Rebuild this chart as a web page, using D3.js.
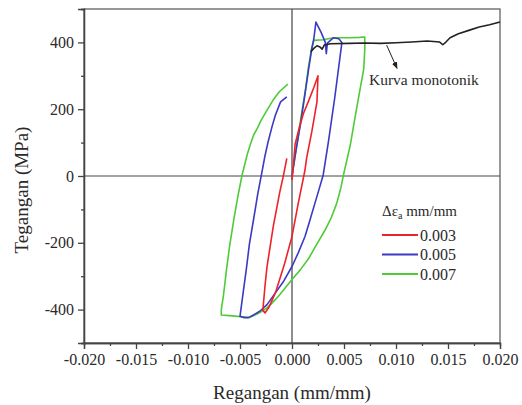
<!DOCTYPE html>
<html>
<head>
<meta charset="utf-8">
<script src="https://cdn.jsdelivr.net/npm/d3@7"></script>
<style>
  body { margin: 0; background: #fff; }
  svg text { font-family: "Liberation Serif", "Times New Roman", serif; fill: #2a2a2a; }
  .axis path, .axis line { stroke: #444; stroke-width: 1.3; }
  .axis text { font-size: 16px; }
</style>
</head>
<body>
<div id="chart"></div>
<script>
// strain (mm/mm), stress (MPa) pairs
const loop003 = [
    [0, -12], [0.0001, 20], [0.0003, 95], [0.0007, 145], [0.0011, 187], [0.0016, 225],
    [0.0021, 265], [0.0025, 300], [0.0024, 222], [0.0019, 132], [0.0014, 53],
    [0.00125, 18], [0.0006, -82], [0, -181], [-0.0007, -261], [-0.0016, -350],
    [-0.0022, -392], [-0.0026, -410], [-0.0028, -402], [-0.0026, -330],
    [-0.0024, -271], [-0.0018, -151], [-0.0012, -52], [-0.0008, 5], [-0.0005, 53]
];
const loop005 = [
    [0, 0], [0.0004, 80], [0.0008, 152], [0.0012, 235], [0.0016, 321], [0.0019, 380],
    [0.0021, 411], [0.0023, 461], [0.0028, 430], [0.0032, 400], [0.0033, 366],
    [0.0034, 398], [0.0040, 414], [0.0045, 411], [0.0048, 400], [0.0041, 232],
    [0.0035, 102], [0.0030, 3], [0.0026, -40], [0.0022, -82], [0.0017, -135],
    [0.00125, -181], [0.0006, -230], [0, -271], [-0.0008, -315], [-0.0016, -350],
    [-0.0024, -385], [-0.0031, -405], [-0.0037, -416], [-0.0042, -424],
    [-0.0046, -424], [-0.0050, -420], [-0.0047, -350], [-0.0044, -281],
    [-0.0041, -205], [-0.0037, -131], [-0.0033, -55], [-0.0029, 10], [-0.0026, 60],
    [-0.0023, 102], [-0.0019, 150], [-0.0016, 182], [-0.0011, 222], [-0.0005, 237]
];
const loop007 = [
    [0, 0], [0.0003, 60], [0.0006, 120], [0.0009, 182], [0.0013, 260], [0.0016, 330],
    [0.0019, 385], [0.0021, 406], [0.0030, 408], [0.0040, 414], [0.0055, 414],
    [0.0065, 415], [0.0070, 416], [0.0070, 381], [0.0069, 321], [0.0065, 252],
    [0.0061, 182], [0.0056, 92], [0.0050, 10], [0.0047, -35], [0.0043, -82],
    [0.0038, -123], [0.0032, -161], [0.0024, -203], [0.0016, -247], [0.0008, -281],
    [0, -310], [-0.0007, -337], [-0.0013, -360], [-0.0019, -380], [-0.0024, -395],
    [-0.0029, -405], [-0.0034, -414], [-0.0041, -424], [-0.0046, -422],
    [-0.0050, -421], [-0.0060, -418], [-0.0068, -416], [-0.0068, -400],
    [-0.0066, -360], [-0.0063, -281], [-0.0060, -210], [-0.0056, -131],
    [-0.0052, -60], [-0.0048, 3], [-0.0043, 65], [-0.0040, 95], [-0.0037, 122],
    [-0.0033, 145], [-0.0030, 165], [-0.0024, 197], [-0.0018, 228], [-0.0012, 253],
    [-0.0004, 275]
];
const monotonic = [
    [0.0018, 372], [0.0021, 382], [0.0024, 390], [0.0027, 386], [0.0029, 380],
    [0.0031, 392], [0.0037, 396], [0.0055, 397], [0.0070, 398], [0.0085, 397],
    [0.0100, 399], [0.0115, 401], [0.0130, 404], [0.0142, 401], [0.0145, 393],
    [0.0148, 401], [0.0152, 414], [0.0160, 426], [0.0170, 436], [0.0180, 446],
    [0.0190, 453], [0.0200, 461]
];

const seriesNames = ["0.003", "0.005", "0.007"];
const seriesData = [loop003, loop005, loop007];
const colors = ["#ee2229", "#3a3ac4", "#4ecb37"];

const xTicks = [-0.020, -0.015, -0.010, -0.005, 0, 0.005, 0.010, 0.015, 0.020];
const xMinor = [-0.0175, -0.0125, -0.0075, -0.0025, 0.0025, 0.0075, 0.0125, 0.0175];
const yTicks = [-400, -200, 0, 200, 400];
const yMinor = [-500, -300, -100, 100, 300, 500];

const W = 522, H = 405;
const svg = d3.select("#chart").append("svg")
    .attr("width", W)
    .attr("height", H);

const x = d3.scaleLinear().domain([-0.02, 0.02]).range([84, 500]);
const y = d3.scaleLinear().domain([-500, 500]).range([343, 9]);

// frame
svg.append("rect")
    .attr("x", x(-0.02)).attr("y", y(500))
    .attr("width", x(0.02) - x(-0.02))
    .attr("height", y(-500) - y(500))
    .attr("fill", "none")
    .attr("stroke", "#555")
    .attr("stroke-width", 1.2);

// zero lines
svg.append("line")
    .attr("x1", x(-0.02)).attr("x2", x(0.02))
    .attr("y1", y(0)).attr("y2", y(0))
    .attr("stroke", "#444").attr("stroke-width", 1.2);
svg.append("line")
    .attr("x1", x(0)).attr("x2", x(0))
    .attr("y1", y(500)).attr("y2", y(-500))
    .attr("stroke", "#444").attr("stroke-width", 1.2);

// axes
svg.append("g")
    .attr("class", "axis")
    .attr("transform", `translate(0, ${y(-500)})`)
    .call(d3.axisBottom(x).tickValues(xTicks).tickSize(6).tickPadding(5)
        .tickFormat(d => d.toFixed(3)));
svg.append("g")
    .attr("class", "axis")
    .attr("transform", `translate(0, ${y(-500)})`)
    .call(d3.axisBottom(x).tickValues(xMinor).tickSize(3).tickFormat(""));

svg.append("g")
    .attr("class", "axis")
    .attr("transform", `translate(${x(-0.02)}, 0)`)
    .call(d3.axisLeft(y).tickValues(yTicks).tickSize(6).tickPadding(4)
        .tickFormat(d => String(d)));
svg.append("g")
    .attr("class", "axis")
    .attr("transform", `translate(${x(-0.02)}, 0)`)
    .call(d3.axisLeft(y).tickValues(yMinor).tickSize(3).tickFormat(""));

svg.selectAll(".axis .domain").attr("stroke", "#555");

// curves
const line = d3.line()
    .x(d => x(d[0]))
    .y(d => y(d[1]));

[2, 1, 0].forEach(i => {
    svg.append("path")
        .datum(seriesData[i])
        .attr("d", line)
        .attr("fill", "none")
        .attr("stroke", colors[i])
        .attr("stroke-width", 1.6)
        .attr("stroke-linejoin", "round");
});

svg.append("path")
    .datum(monotonic)
    .attr("d", line)
    .attr("fill", "none")
    .attr("stroke", "#222")
    .attr("stroke-width", 1.6)
    .attr("stroke-linejoin", "round");

// annotation arrow
svg.append("defs").append("marker")
    .attr("id", "arrow")
    .attr("viewBox", "0 0 10 10")
    .attr("refX", 9).attr("refY", 5)
    .attr("markerWidth", 7).attr("markerHeight", 7)
    .attr("orient", "auto")
    .append("path")
    .attr("d", "M0,1 L10,5 L0,9 Z")
    .attr("fill", "#222");

svg.append("line")
    .attr("x1", x(0.0091)).attr("y1", y(392))
    .attr("x2", x(0.0101)).attr("y2", y(322))
    .attr("stroke", "#222")
    .attr("stroke-width", 1)
    .attr("marker-end", "url(#arrow)");

svg.append("text")
    .attr("x", 369).attr("y", 85)
    .style("font-size", "15.5px")
    .text("Kurva monotonik");

// legend
const legend = svg.append("g")
    .attr("transform", "translate(382, 216)");

const ltitle = legend.append("text")
    .attr("x", 0).attr("y", 0)
    .style("font-size", "15px");
ltitle.append("tspan").text("Δε");
ltitle.append("tspan").attr("dy", 3).style("font-size", "10px").text("a");
ltitle.append("tspan").attr("dy", -3).text(" mm/mm");

legend.selectAll(".lline")
    .data(seriesNames)
    .enter()
    .append("line")
    .attr("class", "lline")
    .attr("x1", 0).attr("x2", 36)
    .attr("y1", (d, i) => 19 + i * 19.5)
    .attr("y2", (d, i) => 19 + i * 19.5)
    .attr("stroke", (d, i) => colors[i])
    .attr("stroke-width", 1.8);

legend.selectAll(".llabel")
    .data(seriesNames)
    .enter()
    .append("text")
    .attr("class", "llabel")
    .attr("x", 38)
    .attr("y", (d, i) => 24.5 + i * 19.5)
    .style("font-size", "16px")
    .text(d => d);

// axis titles
svg.append("text")
    .attr("x", x(0))
    .attr("y", 399)
    .attr("text-anchor", "middle")
    .style("font-size", "19px")
    .text("Regangan (mm/mm)");

svg.append("text")
    .attr("transform", "translate(28, 190) rotate(-90)")
    .attr("text-anchor", "middle")
    .style("font-size", "19px")
    .text("Tegangan (MPa)");
</script>
</body>
</html>
